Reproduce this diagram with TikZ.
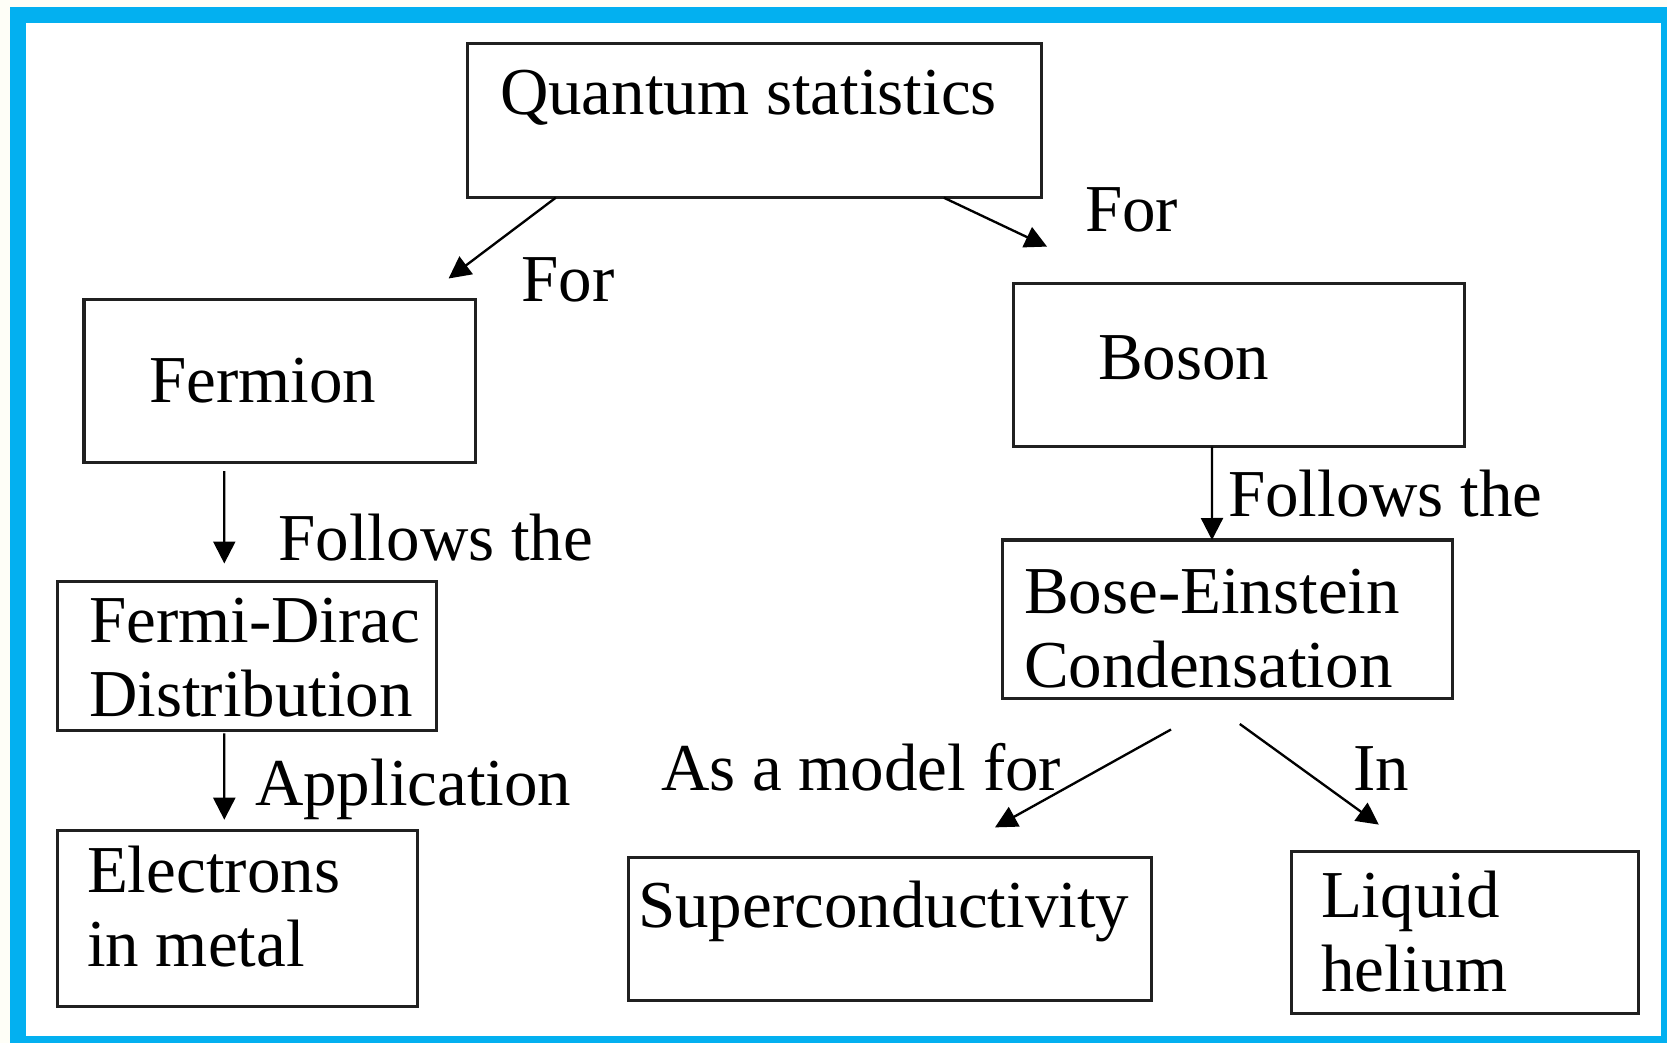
\documentclass[tikz,border=0pt]{standalone}
\usepackage{fontspec}
\setmainfont{Liberation Serif}
\usetikzlibrary{arrows.meta}
\definecolor{framecyan}{RGB}{3,176,240}
\definecolor{paper}{RGB}{254,254,247}
\definecolor{ink}{RGB}{32,32,32}

\begin{document}
\begin{tikzpicture}[x=0.03cm, y=-0.03cm,
  box/.style={draw=ink, line width=2.6pt, rectangle, inner sep=0pt, outer sep=0pt},
  % anchored at the baseline of the last line of the text
  txt/.style={anchor=base west, inner sep=0pt, outer sep=0pt, align=left,
              font=\fontsize{57.2}{63.5}\selectfont},
  link/.style={draw=black, line width=2pt,
               -{Triangle[length=0.66cm, width=0.66cm]}}]

% page and cyan frame
\useasboundingbox (0,0) rectangle (1667,1043);
\fill[paper] (0,0) rectangle (1667,1043);
\fill[framecyan] (10,7) rectangle (1680,1060);
\fill[white] (26,23) rectangle (1661,1036);

% boxes
\node[box, minimum width=574*0.03cm,   minimum height=154.1*0.03cm] (qs)        at (754.8,120.65) {};
\node[box, minimum width=391.2*0.03cm, minimum height=162.6*0.03cm] (fermion)   at (279.6,381.1) {};
\node[box, minimum width=451.9*0.03cm, minimum height=162.7*0.03cm] (boson)     at (1239,365.15) {};
\node[box, minimum width=379.5*0.03cm, minimum height=148.9*0.03cm] (fd)        at (247.15,655.95) {};
\node[box, minimum width=449.7*0.03cm, minimum height=158.5*0.03cm] (bec)       at (1227.35,619.25) {};
\node[box, minimum width=360.4*0.03cm, minimum height=176.5*0.03cm] (electrons) at (237.6,918.55) {};
\node[box, minimum width=523*0.03cm,   minimum height=142.5*0.03cm] (super)     at (889.8,929.15) {};
\node[box, minimum width=346.5*0.03cm, minimum height=161.5*0.03cm] (helium)    at (1464.95,932.35) {};

% box texts
\node[txt] (qst) at (500,114.8) {Quantum statistics};
\node[txt] (fet) at (149,402) {Fermion};
\node[txt] (bot) at (1098,379) {Boson};
\node[txt] (fdt) at (89,716.5) {Fermi-Dirac\\Distribution};
\node[txt] (bet) at (1024,687.5) {Bose-Einstein\\Condensation};
\node[txt] (elt) at (87,966.5) {Electrons\\in metal};
\node[txt] (sut) at (638,927.5) {Superconductivity};
\node[txt] (het) at (1321,991.5) {Liquid\\helium};

% connectors
\draw[link] ([shift={(88,0)}]qs.south west) -- ([shift={(-26.6,-21.3)}]fermion.north east);
\draw[link] ([shift={(476,0)}]qs.south west) -- ([shift={(34,-37.2)}]boson.north west);
\draw[link] ([shift={(140.3,8.6)}]fermion.south west) -- ([shift={(166.9,-18)}]fd.north west);
\draw[link] ([shift={(166.9,3)}]fd.south west) -- ([shift={(166.9,-10.6)}]electrons.north west);
\draw[link] ([shift={(198.9,0)}]boson.south west) -- ([shift={(209.5,0)}]bec.north west);
\draw[link] ([shift={(168.5,31)}]bec.south west) -- ([shift={(366.7,-30.5)}]super.north west);
\draw[link] ([shift={(237.3,25.5)}]bec.south west) -- ([shift={(87.1,-27)}]helium.north west);

% connector labels
\node[txt] (l1) at (521.5,301.7) {For};
\node[txt] (l2) at (1085,231.7) {For};
\node[txt] (l3) at (278.5,560) {Follows the};
\node[txt] (l4) at (1228,516) {Follows the};
\node[txt] (l5) at (255,805.5) {Application};
\node[txt] (l6) at (661,790) {As a model for};
\node[txt] (l7) at (1353,790) {In};
\end{tikzpicture}
\end{document}
